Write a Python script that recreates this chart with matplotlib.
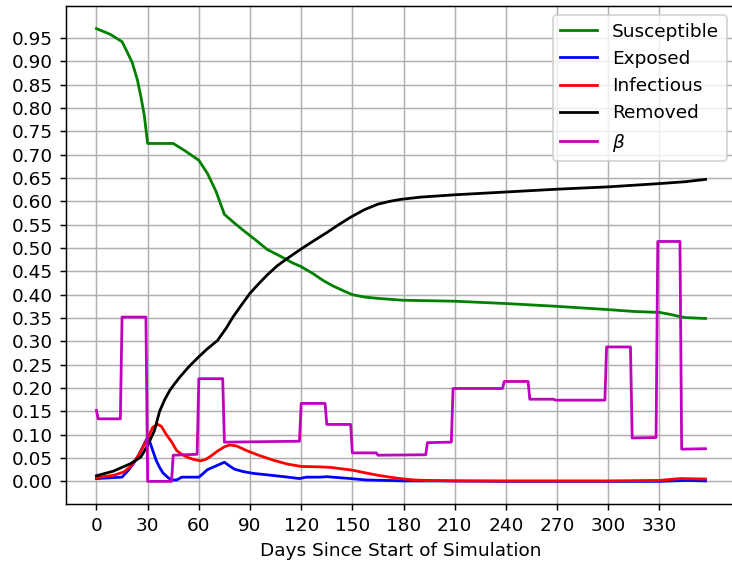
import matplotlib
matplotlib.use("Agg")
import matplotlib.pyplot as plt

# Susceptible
s_days = [0, 8, 15, 18, 21, 24, 26, 28, 30, 45, 52, 60, 65, 70, 75, 81, 86, 93, 100, 108, 115, 120,
          127, 133, 139, 145, 150, 157, 165, 180, 210, 240, 270, 300, 315, 330, 336, 342, 345, 357]
s_vals = [0.970, 0.958, 0.942, 0.920, 0.897, 0.860, 0.825, 0.785, 0.724, 0.724, 0.708, 0.688, 0.660,
          0.622, 0.572, 0.553, 0.538, 0.518, 0.497, 0.482, 0.468, 0.460, 0.445, 0.430, 0.418, 0.408,
          0.400, 0.395, 0.392, 0.388, 0.386, 0.381, 0.375, 0.368, 0.364, 0.362, 0.358, 0.353, 0.351, 0.349]

# Exposed
e_days = [0, 15, 19, 22, 25, 28, 30, 31, 33, 35, 37, 39, 42, 44, 47, 50, 60, 62, 65, 70, 75, 78, 81,
          86, 92, 100, 110, 119, 123, 131, 135, 142, 149, 158, 170, 180, 200, 240, 300, 330, 345, 357]
e_vals = [0.006, 0.009, 0.025, 0.040, 0.058, 0.080, 0.095, 0.088, 0.066, 0.045, 0.030, 0.018, 0.008,
          0.003, 0.003, 0.009, 0.009, 0.015, 0.025, 0.033, 0.041, 0.033, 0.026, 0.021, 0.017, 0.014,
          0.010, 0.006, 0.009, 0.009, 0.010, 0.008, 0.006, 0.003, 0.002, 0.001, 0.001, 0.000, 0.000,
          0.000, 0.002, 0.001]

# Infectious
i_days = [0, 10, 16, 20, 24, 27, 30, 33, 36, 38, 41, 44, 47, 50, 53, 57, 61, 64, 67, 71, 75, 78, 82,
          88, 95, 104, 112, 120, 131, 137, 150, 158, 165, 172, 178, 186, 194, 210, 300, 330, 336, 342, 357]
i_vals = [0.008, 0.013, 0.020, 0.032, 0.052, 0.072, 0.092, 0.116, 0.122, 0.118, 0.100, 0.085, 0.066,
          0.058, 0.052, 0.047, 0.044, 0.047, 0.054, 0.065, 0.074, 0.078, 0.076, 0.066, 0.056, 0.045,
          0.037, 0.032, 0.031, 0.030, 0.024, 0.018, 0.013, 0.009, 0.006, 0.003, 0.002, 0.001, 0.001,
          0.002, 0.004, 0.006, 0.005]

# Removed
r_days = [0, 10, 20, 26, 30, 34, 37, 40, 43, 46, 49, 54, 60, 65, 71, 76, 80, 85, 90, 95, 100, 106,
          112, 118, 125, 135, 142, 149, 157, 165, 172, 178, 190, 210, 240, 270, 300, 330, 345, 357]
r_vals = [0.012, 0.022, 0.038, 0.052, 0.077, 0.109, 0.150, 0.175, 0.195, 0.210, 0.224, 0.245, 0.267,
          0.284, 0.302, 0.328, 0.352, 0.378, 0.403, 0.423, 0.442, 0.462, 0.478, 0.493, 0.510, 0.533,
          0.550, 0.566, 0.582, 0.594, 0.600, 0.604, 0.609, 0.614, 0.620, 0.626, 0.631, 0.638, 0.642, 0.647]

# beta (piecewise constant, one day transitions)
b_days = [0, 1, 14, 15, 29, 30, 44, 45, 59, 60, 74, 75, 119, 120, 134, 135, 149, 150, 164, 165,
          193, 194, 208, 209, 238, 239, 253, 254, 268, 269, 298, 299, 313, 314, 328, 329, 342, 343, 357]
b_vals = [0.152, 0.134, 0.134, 0.352, 0.352, 0.000, 0.000, 0.056, 0.058, 0.220, 0.220, 0.084, 0.086,
          0.167, 0.167, 0.122, 0.122, 0.061, 0.061, 0.056, 0.057, 0.083, 0.084, 0.199, 0.199, 0.214,
          0.214, 0.176, 0.176, 0.174, 0.174, 0.288, 0.288, 0.093, 0.094, 0.514, 0.514, 0.069, 0.070]

DPI = 133.33
fig = plt.figure(figsize=(732 / DPI, 568 / DPI), dpi=DPI)
ax = fig.add_axes([66 / 732, 64 / 568, 670 / 732, 498 / 568])

ax.plot(s_days, s_vals, color='g', label='Susceptible')
ax.plot(e_days, e_vals, color='b', label='Exposed')
ax.plot(i_days, i_vals, color='r', label='Infectious')
ax.plot(r_days, r_vals, color='k', label='Removed')
ax.plot(b_days, b_vals, color='m', label=r'$\beta$')

ax.set_xticks(range(0, 331, 30))
ax.set_yticks([i * 0.05 for i in range(20)])
ax.set_xlabel('Days Since Start of Simulation')
ax.grid(True)
ax.legend(loc='upper right')

fig.savefig('out.png', dpi=DPI)
